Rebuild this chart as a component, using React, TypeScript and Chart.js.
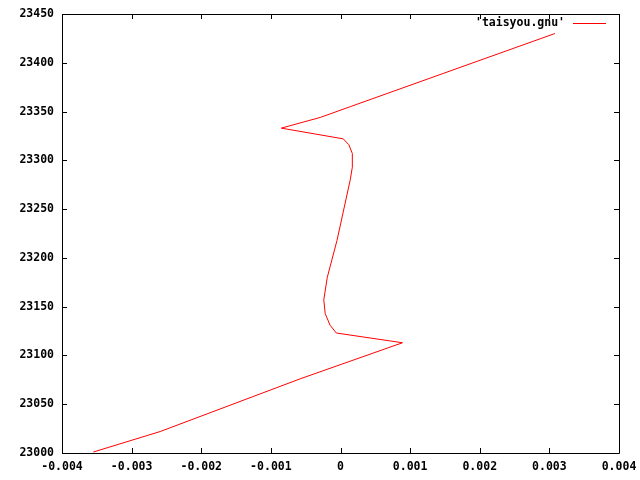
import React, { useEffect, useRef } from "react";
import { Chart, registerables } from "chart.js";

Chart.register(...registerables);

const seriesLabel = "'taisyou.gnu'";
const xValues = [
  -0.00355, -0.00259, -0.00058, 0.00089, -0.00006, -0.00015, -0.00022, -0.00024,
  -0.00019, -0.00005, 0.00014, 0.00017, 0.00017, 0.00012, 0.00004, -0.00085,
  -0.00029, 0.00014, 0.00308,
];
const yValues = [
  23001, 23022, 23076, 23113, 23123, 23131, 23143, 23157,
  23180, 23218, 23280, 23293, 23307, 23316, 23322, 23333,
  23344, 23355, 23430,
];
const xTickMin = -0.004;
const xTickMax = 0.004;
const xTickStep = 0.001;
const yTickMin = 23000;
const yTickMax = 23450;
const yTickStep = 50;

const FONT = "'DejaVu Sans Mono', monospace";
const FSIZE = 11.5;

const framePlugin = {
  id: "gnuFrame",
  afterDraw(chart: any) {
    const { ctx, chartArea } = chart;
    const { left, right, top, bottom } = chartArea;
    ctx.save();
    ctx.strokeStyle = "#000";
    ctx.lineWidth = 1;
    ctx.beginPath();
    ctx.rect(Math.round(left) + 0.5, Math.round(top) + 0.5, Math.round(right - left), Math.round(bottom - top));
    ctx.stroke();
    const tl = 5;
    const xs = chart.scales.x;
    const ys = chart.scales.y;
    ctx.beginPath();
    xs.ticks.forEach((t: any) => {
      const px = Math.round(xs.getPixelForValue(t.value)) + 0.5;
      ctx.moveTo(px, bottom);
      ctx.lineTo(px, bottom - tl);
      ctx.moveTo(px, top);
      ctx.lineTo(px, top + tl);
    });
    ys.ticks.forEach((t: any) => {
      const py = Math.round(ys.getPixelForValue(t.value)) + 0.5;
      ctx.moveTo(left, py);
      ctx.lineTo(left + tl, py);
      ctx.moveTo(right, py);
      ctx.lineTo(right - tl, py);
    });
    ctx.stroke();
    // legend
    ctx.font = "bold " + FSIZE + "px " + FONT;
    ctx.fillStyle = "#000";
    ctx.textAlign = "right";
    ctx.textBaseline = "middle";
    ctx.fillText(seriesLabel, 565, 23);
    ctx.strokeStyle = "#ff0000";
    ctx.beginPath();
    ctx.moveTo(573, 23.5);
    ctx.lineTo(606, 23.5);
    ctx.stroke();
    ctx.restore();
  },
};

export default function App() {
  const ref = useRef<HTMLCanvasElement | null>(null);
  useEffect(() => {
    document.body.style.margin = "0";
    const points = xValues.map((x, i) => ({ x, y: yValues[i] }));
    const chart = new Chart(ref.current as HTMLCanvasElement, {
      type: "scatter",
      data: {
        datasets: [
          {
            label: seriesLabel,
            data: points,
            showLine: true,
            borderColor: "#ff0000",
            backgroundColor: "#ff0000",
            borderWidth: 1,
            pointRadius: 0,
            tension: 0,
          },
        ],
      },
      options: {
        animation: false,
        responsive: false,
        devicePixelRatio: 1,
        layout: { padding: { top: 14, right: 21, left: 0, bottom: 0 } },
        plugins: { legend: { display: false }, tooltip: { enabled: false } },
        scales: {
          x: {
            type: "linear",
            min: xTickMin,
            max: xTickMax,
            grid: { display: false, drawTicks: false },
            border: { display: false },
            ticks: {
              stepSize: xTickStep,
              color: "#000",
              font: { family: FONT, size: FSIZE, weight: "bold" },
              padding: 7,
              maxRotation: 0,
              autoSkip: false,
              callback: (v: any) => {
                const n = Math.round(Number(v) * 1000) / 1000;
                return n === 0 ? "0" : n.toFixed(3);
              },
            },
            afterFit: (s: any) => {
              s.height = 27;
              s.paddingRight = 0;
              s.paddingLeft = 0;
            },
          },
          y: {
            type: "linear",
            min: yTickMin,
            max: yTickMax,
            grid: { display: false, drawTicks: false },
            border: { display: false },
            ticks: {
              stepSize: yTickStep,
              color: "#000",
              font: { family: FONT, size: FSIZE, weight: "bold" },
              padding: 8,
              autoSkip: false,
              callback: (v: any) => String(Math.round(Number(v))),
            },
            afterFit: (s: any) => {
              s.width = 62;
              s.paddingTop = 0;
              s.paddingBottom = 0;
            },
          },
        },
      },
      plugins: [framePlugin],
    });
    return () => chart.destroy();
  }, []);
  return (
    <div style={{ width: 640, height: 480 }}>
      <canvas ref={ref} width={640} height={480} style={{ display: "block" }} />
    </div>
  );
}
